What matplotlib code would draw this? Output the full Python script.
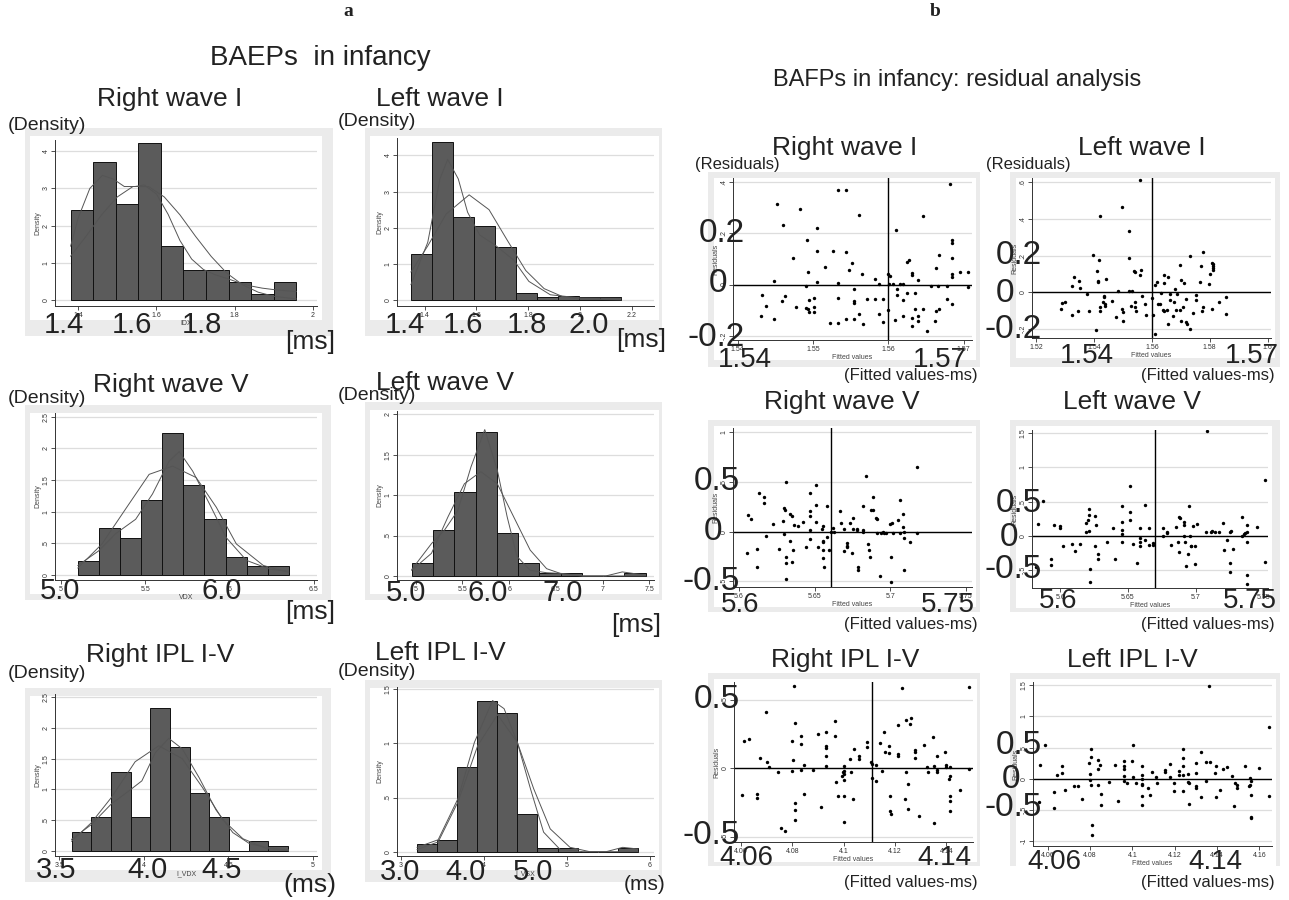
import numpy as np
import matplotlib
matplotlib.use("Agg")
import matplotlib.pyplot as plt
from matplotlib.patches import Rectangle

plt.rcParams['font.family'] = ['Liberation Sans', 'DejaVu Sans']

# ---------------- DATA ----------------

# histograms: first bin edge, bin width, bar heights (density)
a1_start, a1_width = 1.381, 0.0576
a1_heights = [2.43, 3.72, 2.59, 4.22, 1.46, 0.80, 0.80, 0.48, 0.15, 0.48]
a1_kx = [1.381, 1.40, 1.43, 1.462, 1.49, 1.518, 1.545, 1.569, 1.60, 1.63, 1.66, 1.69,
         1.72, 1.75, 1.78, 1.81, 1.84, 1.87, 1.90, 1.93, 1.957]
a1_ky = [1.45, 2.2, 3.0, 3.35, 3.25, 3.05, 3.05, 3.09, 2.85, 2.3, 1.6, 1.1,
         0.82, 0.68, 0.58, 0.47, 0.38, 0.32, 0.28, 0.25, 0.23]
a1_nx = [1.381, 1.42, 1.46, 1.50, 1.54, 1.58, 1.62, 1.66, 1.70, 1.74, 1.78, 1.82, 1.86, 1.90, 1.957]
a1_ny = [1.18, 1.71, 2.29, 2.77, 3.05, 3.05, 2.77, 2.29, 1.71, 1.17, 0.72, 0.41, 0.21, 0.10, 0.03]

a2_start, a2_width = 1.347, 0.0812
a2_heights = [1.27, 4.38, 2.29, 2.06, 1.48, 0.20, 0.10, 0.11, 0.09, 0.09]
a2_kx = [1.347, 1.412, 1.459, 1.489, 1.530, 1.566, 1.613, 1.673, 1.744, 1.803, 1.886, 2.004, 2.159]
a2_ky = [0.43, 1.6, 3.35, 3.89, 3.35, 2.43, 1.8, 1.52, 1.11, 0.52, 0.15, 0.06, 0.05]
a2_nx = [1.347, 1.412, 1.483, 1.572, 1.649, 1.720, 1.791, 1.862, 1.933, 2.004, 2.159]
a2_ny = [0.78, 1.50, 2.38, 2.91, 2.50, 1.65, 0.82, 0.32, 0.10, 0.03, 0.01]

a3_start, a3_width = 5.10, 0.1253
a3_heights = [0.215, 0.745, 0.59, 1.19, 2.25, 1.42, 0.89, 0.28, 0.14, 0.14]
a3_kx = [5.10, 5.223, 5.323, 5.443, 5.543, 5.642, 5.702, 5.782, 5.882, 5.981, 6.101, 6.241, 6.352]
a3_ky = [0.15, 0.38, 0.65, 0.88, 1.28, 1.80, 1.95, 1.64, 1.12, 0.59, 0.23, 0.09, 0.06]
a3_nx = [5.10, 5.243, 5.403, 5.523, 5.662, 5.802, 5.922, 6.041, 6.201, 6.352]
a3_ny = [0.11, 0.49, 1.12, 1.59, 1.72, 1.54, 1.07, 0.49, 0.15, 0.04]

a4_start, a4_width = 4.958, 0.2275
a4_heights = [0.165, 0.574, 1.037, 1.78, 0.537, 0.165, 0.04, 0.04, 0.0, 0.0, 0.04]
a4_kx = [4.958, 5.169, 5.31, 5.451, 5.592, 5.739, 5.873, 5.979, 6.085, 6.225, 6.401, 6.577,
         6.789, 7.035, 7.211, 7.458]
a4_ky = [0.08, 0.40, 0.57, 0.81, 1.35, 1.81, 1.31, 0.73, 0.24, 0.07, 0.04, 0.03,
         0.0, 0.0, 0.05, 0.01]
a4_nx = [4.958, 5.169, 5.345, 5.521, 5.697, 5.873, 6.049, 6.225, 6.401, 6.577, 6.789, 7.458]
a4_ny = [0.07, 0.28, 0.73, 1.14, 1.29, 1.14, 0.73, 0.32, 0.09, 0.02, 0.0, 0.0]

a5_start, a5_width = 3.572, 0.1165
a5_heights = [0.31, 0.557, 1.286, 0.557, 2.33, 1.69, 0.95, 0.557, 0.0, 0.156, 0.078]
a5_kx = [3.572, 3.689, 3.809, 3.908, 3.988, 4.068, 4.147, 4.227, 4.327, 4.426, 4.526, 4.625, 4.745, 4.855]
a5_ky = [0.19, 0.43, 0.77, 0.97, 1.14, 1.60, 1.83, 1.66, 1.19, 0.67, 0.30, 0.12, 0.05, 0.02]
a5_nx = [3.572, 3.689, 3.809, 3.948, 4.088, 4.227, 4.347, 4.466, 4.586, 4.725, 4.855]
a5_ny = [0.16, 0.46, 0.875, 1.45, 1.71, 1.50, 1.03, 0.51, 0.20, 0.04, 0.01]

a6_start, a6_width = 3.194, 0.2417
a6_heights = [0.074, 0.111, 0.778, 1.395, 1.284, 0.349, 0.037, 0.037, 0.0, 0.0, 0.037]
a6_kx = [3.194, 3.448, 3.687, 3.885, 4.103, 4.242, 4.401, 4.560, 4.718, 4.917, 5.194, 5.472, 5.671, 5.853]
a6_ky = [0.04, 0.11, 0.49, 1.01, 1.395, 1.32, 1.01, 0.58, 0.18, 0.02, 0.0, 0.0, 0.04, 0.025]
a6_nx = [3.194, 3.448, 3.687, 3.925, 4.163, 4.401, 4.599, 4.798, 5.036, 5.274, 5.853]
a6_ny = [0.02, 0.09, 0.46, 0.98, 1.265, 1.01, 0.58, 0.21, 0.04, 0.0, 0.0]

# residual scatter plots: (fitted value, residual)
b1_pts = [(1.5431, -0.123), (1.5433, -0.042), (1.5438, -0.084), (1.5449, -0.135), (1.5449, 0.014),
          (1.5452, 0.316), (1.5459, -0.066), (1.5460, 0.235), (1.5463, -0.045), (1.5474, 0.104),
          (1.5478, -0.087), (1.5483, 0.294), (1.5491, -0.006), (1.5492, 0.173), (1.5491, -0.090),
          (1.5494, -0.097), (1.5494, 0.051), (1.5495, -0.061), (1.5495, -0.106), (1.5501, -0.087),
          (1.5502, -0.051), (1.5502, -0.106), (1.5505, 0.221), (1.5505, 0.131), (1.5506, 0.010),
          (1.5516, 0.070), (1.5522, -0.151), (1.5526, 0.130), (1.5533, 0.370), (1.5533, -0.151),
          (1.5533, 0.008), (1.5533, -0.053), (1.5544, 0.370), (1.5544, 0.127), (1.5544, -0.135),
          (1.5548, 0.056), (1.5552, 0.084), (1.5554, -0.135), (1.5554, -0.017), (1.5554, -0.064),
          (1.5554, -0.071), (1.5561, 0.274), (1.5561, -0.117), (1.5565, 0.043), (1.5567, -0.155),
          (1.5572, -0.057), (1.5583, 0.021), (1.5583, -0.057), (1.5588, -0.117), (1.5588, 0.001),
          (1.5593, -0.057), (1.5593, -0.148), (1.5599, -0.100), (1.5600, 0.043), (1.5601, 0.001),
          (1.5602, 0.032), (1.5606, 0.001), (1.5609, -0.140), (1.5610, 0.212), (1.5611, -0.019),
          (1.5611, -0.039), (1.5615, 0.001), (1.5620, -0.061), (1.5620, 0.001), (1.5620, -0.122),
          (1.5625, 0.090), (1.5625, -0.032), (1.5628, 0.097), (1.5632, 0.045), (1.5632, 0.036),
          (1.5632, -0.129), (1.5632, -0.164), (1.5635, -0.032), (1.5635, -0.094), (1.5640, 0.017),
          (1.5640, -0.125), (1.5640, -0.144), (1.5646, 0.268), (1.5646, -0.094), (1.5651, -0.183),
          (1.5656, -0.006), (1.5662, -0.144), (1.5663, -0.105), (1.5663, 0.065), (1.5666, -0.006),
          (1.5667, 0.114), (1.5667, -0.096), (1.5678, -0.006), (1.5678, -0.057), (1.5682, 0.394),
          (1.5685, 0.173), (1.5685, 0.162), (1.5685, 0.105), (1.5685, 0.043), (1.5685, 0.030),
          (1.5685, -0.077), (1.5695, 0.049), (1.5706, 0.049), (1.5706, -0.009)]

b2_pts = [(1.5286, -0.093), (1.5290, -0.060), (1.5300, -0.051), (1.5323, -0.125), (1.5323, 0.036),
          (1.5330, 0.085), (1.5344, -0.100), (1.5346, 0.064), (1.5352, 0.024), (1.5374, -0.011),
          (1.5383, -0.100), (1.5395, 0.204), (1.5406, -0.205), (1.5411, 0.116), (1.5413, 0.055),
          (1.5415, 0.060), (1.5418, 0.178), (1.5419, 0.416), (1.5419, -0.078), (1.5420, -0.102),
          (1.5430, -0.055), (1.5433, -0.027), (1.5434, -0.020), (1.5436, -0.064), (1.5438, -0.075),
          (1.5442, 0.075), (1.5461, -0.049), (1.5476, -0.133), (1.5482, 0.007), (1.5498, 0.467),
          (1.5498, -0.093), (1.5499, -0.109), (1.5499, -0.155), (1.5521, 0.335), (1.5520, 0.189),
          (1.5520, 0.007), (1.5528, -0.075), (1.5530, 0.007), (1.5538, 0.118), (1.5543, 0.113),
          (1.5543, -0.056), (1.5543, -0.082), (1.5545, -0.100), (1.5557, 0.613), (1.5557, 0.093),
          (1.5563, 0.122), (1.5567, -0.020), (1.5576, -0.062), (1.5578, -0.124), (1.5601, -0.033),
          (1.5602, -0.124), (1.5611, -0.227), (1.5611, 0.038), (1.5616, 0.058), (1.5620, -0.067),
          (1.5629, -0.062), (1.5633, -0.005), (1.5640, -0.096), (1.5643, 0.093), (1.5643, 0.053),
          (1.5643, -0.100), (1.5652, -0.096), (1.5657, -0.173), (1.5657, 0.085), (1.5662, -0.009),
          (1.5662, -0.042), (1.5673, -0.129), (1.5675, -0.056), (1.5680, 0.016), (1.5685, -0.096),
          (1.5688, -0.009), (1.5696, 0.151), (1.5698, -0.096), (1.5701, -0.155), (1.5701, 0.067),
          (1.5708, -0.078), (1.5710, 0.053), (1.5719, -0.038), (1.5719, -0.160), (1.5721, -0.176),
          (1.5730, 0.198), (1.5731, -0.200), (1.5742, -0.115), (1.5753, -0.015), (1.5754, -0.045),
          (1.5768, 0.055), (1.5770, 0.144), (1.5773, -0.100), (1.5776, 0.222), (1.5777, -0.078),
          (1.5797, 0.044), (1.5800, 0.100), (1.5807, -0.091), (1.5809, 0.162), (1.5810, 0.153),
          (1.5810, 0.144), (1.5810, 0.135), (1.5811, 0.122), (1.5832, -0.056), (1.5856, -0.027),
          (1.5856, -0.118)]

b3_pts = [(5.6055, -0.219), (5.6060, 0.162), (5.6077, 0.128), (5.6121, -0.175), (5.6121, -0.360),
          (5.6135, 0.387), (5.6166, 0.343), (5.6166, 0.283), (5.6181, -0.040), (5.6223, 0.077),
          (5.6263, -0.175), (5.6292, 0.111), (5.6296, -0.027), (5.6298, 0.236), (5.6305, 0.219),
          (5.6309, 0.495), (5.6309, -0.253), (5.6309, -0.320), (5.6309, -0.478), (5.6340, 0.172),
          (5.6340, -0.098), (5.6349, 0.158), (5.6353, -0.306), (5.6356, -0.182), (5.6360, 0.064),
          (5.6393, 0.061), (5.6426, 0.094), (5.6442, -0.155), (5.6466, 0.387), (5.6466, 0.209),
          (5.6468, 0.155), (5.6468, 0.017), (5.6468, -0.074), (5.6508, 0.094), (5.6508, 0.468),
          (5.6510, 0.266), (5.6524, -0.158), (5.6546, 0.024), (5.6554, 0.054), (5.6554, -0.091),
          (5.6557, -0.104), (5.6557, -0.185), (5.6557, -0.263), (5.6559, -0.354), (5.6581, 0.253),
          (5.6583, -0.051), (5.6594, -0.185), (5.6605, -0.003), (5.6623, 0.040), (5.6625, -0.003),
          (5.6667, 0.202), (5.6672, 0.084), (5.6691, -0.192), (5.6694, 0.027), (5.6711, -0.118),
          (5.6713, -0.141), (5.6716, -0.152), (5.6736, 0.091), (5.6749, -0.219), (5.6753, 0.030),
          (5.6755, 0.141), (5.6778, 0.017), (5.6782, 0.024), (5.6784, -0.354), (5.6784, -0.387),
          (5.6820, 0.259), (5.6822, 0.020), (5.6822, -0.003), (5.6842, 0.559), (5.6855, -0.125),
          (5.6859, -0.189), (5.6864, -0.253), (5.6870, 0.215), (5.6884, 0.350), (5.6886, 0.219),
          (5.6908, 0.135), (5.6910, 0.128), (5.6912, -0.010), (5.6932, -0.441), (5.6937, -0.010),
          (5.6950, -0.007), (5.6961, -0.010), (5.6972, -0.017), (5.7001, 0.081), (5.7005, -0.253),
          (5.7005, -0.505), (5.7014, 0.091), (5.7016, -0.010), (5.7054, 0.114), (5.7065, 0.313),
          (5.7065, -0.017), (5.7087, 0.172), (5.7093, -0.007), (5.7093, -0.067), (5.7093, -0.387),
          (5.7131, -0.101), (5.7175, 0.646), (5.7177, -0.017), (5.7085, 0.051)]

b4_pts = [(5.5822, -0.458), (5.5835, 0.175), (5.5872, 0.511), (5.5931, -0.341), (5.5933, -0.424),
          (5.5953, 0.156), (5.5995, 0.136), (5.5995, 0.112), (5.6020, -0.146), (5.6086, -0.117),
          (5.6111, -0.219), (5.6143, -0.117), (5.6192, 0.185), (5.6192, 0.049), (5.6202, 0.229),
          (5.6210, 0.385), (5.6212, 0.297), (5.6215, 0.073), (5.6217, -0.487), (5.6217, -0.682),
          (5.6259, 0.292), (5.6259, -0.156), (5.6266, 0.151), (5.6279, -0.263), (5.6279, -0.341),
          (5.6345, -0.093), (5.6390, 0.112), (5.6407, -0.341), (5.6452, 0.438), (5.6452, 0.200),
          (5.6452, 0.078), (5.6454, 0.029), (5.6454, -0.097), (5.6518, 0.736), (5.6518, 0.341),
          (5.6518, 0.224), (5.6538, -0.127), (5.6567, -0.399), (5.6585, 0.117), (5.6585, -0.034),
          (5.6585, -0.093), (5.6585, -0.156), (5.6624, 0.453), (5.6624, -0.068), (5.6656, 0.117),
          (5.6656, -0.141), (5.6686, -0.107), (5.6686, -0.132), (5.6755, 0.112), (5.6755, -0.010),
          (5.6790, 0.054), (5.6790, 0.039), (5.6817, -0.141), (5.6854, 0.127), (5.6878, 0.268),
          (5.6883, 0.253), (5.6873, -0.093), (5.6878, -0.244), (5.6915, -0.010), (5.6918, -0.093),
          (5.6915, 0.156), (5.6915, 0.205), (5.6928, -0.443), (5.6945, -0.268), (5.6950, 0.429),
          (5.6957, -0.010), (5.6962, -0.156), (5.6965, -0.146), (5.6977, 0.136), (5.6992, -0.414),
          (5.6994, -0.146), (5.7007, 0.170), (5.7081, 1.529), (5.7078, 0.054), (5.7110, 0.049),
          (5.7118, 0.073), (5.7145, 0.054), (5.7174, 0.054), (5.7204, 0.185), (5.7211, -0.205),
          (5.7234, -0.063), (5.7253, 0.054), (5.7256, -0.399), (5.7256, -0.536), (5.7263, 0.068),
          (5.7278, -0.195), (5.7340, 0.268), (5.7340, -0.010), (5.7357, 0.019), (5.7364, 0.039),
          (5.7377, 0.054), (5.7382, 0.161), (5.7382, -0.097), (5.7382, -0.570), (5.7382, -0.706),
          (5.7451, 0.127), (5.7510, 0.818), (5.7510, -0.390)]

b5_pts = [(4.0606, -0.195), (4.0613, 0.195), (4.0630, 0.214), (4.0661, -0.192), (4.0662, -0.219),
          (4.0675, 0.073), (4.0697, 0.409), (4.0700, 0.046), (4.0708, 0.005), (4.0743, -0.029),
          (4.0758, -0.440), (4.0772, -0.462), (4.0798, 0.197), (4.0800, -0.022), (4.0804, 0.058),
          (4.0806, 0.601), (4.0809, 0.326), (4.0810, -0.255), (4.0810, -0.309), (4.0810, -0.377),
          (4.0833, 0.234), (4.0835, 0.173), (4.0835, -0.012), (4.0845, 0.024), (4.0846, -0.187),
          (4.0879, -0.017), (4.0902, 0.248), (4.0912, -0.285), (4.0933, 0.263), (4.0933, 0.163),
          (4.0933, 0.144), (4.0933, 0.085), (4.0933, 0.012), (4.0967, 0.341), (4.0967, 0.234),
          (4.0970, -0.102), (4.0980, -0.207), (4.0992, -0.058), (4.0997, -0.032), (4.1001, 0.015),
          (4.1002, -0.022), (4.1002, -0.041), (4.1002, -0.085), (4.1002, -0.202), (4.1002, -0.394),
          (4.1024, 0.068), (4.1029, -0.027), (4.1036, -0.224), (4.1041, 0.136), (4.1059, 0.088),
          (4.1060, 0.063), (4.1090, 0.190), (4.1091, 0.151), (4.1108, 0.044), (4.1110, 0.032),
          (4.1110, -0.071), (4.1126, 0.024), (4.1128, -0.097), (4.1142, 0.185), (4.1148, -0.019),
          (4.1159, 0.260), (4.1161, 0.114), (4.1176, 0.107), (4.1177, 0.161), (4.1180, -0.207),
          (4.1182, -0.314), (4.1183, -0.336), (4.1212, 0.316), (4.1212, 0.102), (4.1212, 0.088),
          (4.1228, 0.586), (4.1238, -0.229), (4.1242, 0.353), (4.1244, -0.027), (4.1251, -0.117),
          (4.1251, -0.297), (4.1257, 0.319), (4.1261, 0.367), (4.1277, 0.129), (4.1278, 0.114),
          (4.1278, 0.075), (4.1294, -0.350), (4.1312, 0.168), (4.1326, 0.007), (4.1329, -0.027),
          (4.1348, 0.224), (4.1351, -0.399), (4.1351, 0.015), (4.1362, 0.090), (4.1362, -0.017),
          (4.1364, -0.027), (4.1395, 0.119), (4.1399, 0.019), (4.1399, 0.005), (4.1409, -0.083),
          (4.1416, 0.010), (4.1416, -0.207), (4.1416, -0.243), (4.1416, -0.316), (4.1416, -0.058),
          (4.1452, -0.158), (4.1487, 0.589), (4.1487, -0.010)]

b6_pts = [(4.0558, -0.372), (4.0564, 0.229), (4.0586, 0.548), (4.0628, -0.218), (4.0628, -0.463),
          (4.0642, 0.064), (4.0668, 0.207), (4.0668, 0.090), (4.0682, -0.186), (4.0724, -0.112),
          (4.0742, -0.122), (4.0763, -0.319), (4.0794, 0.261), (4.0798, 0.085), (4.0799, -0.016),
          (4.0805, 0.479), (4.0805, 0.351), (4.0805, -0.106), (4.0808, -0.734), (4.0808, -0.894),
          (4.0835, 0.309), (4.0836, 0.165), (4.0836, -0.096), (4.0849, 0.229), (4.0850, -0.250),
          (4.0850, -0.415), (4.0891, -0.048), (4.0919, 0.229), (4.0933, -0.356), (4.0959, 0.287),
          (4.0959, 0.207), (4.0959, 0.154), (4.0959, 0.043), (4.0959, -0.027), (4.0975, -0.064),
          (4.0997, 0.293), (4.1003, 0.537), (4.1003, 0.032), (4.1017, -0.059), (4.1043, 0.213),
          (4.1043, 0.069), (4.1043, -0.005), (4.1043, -0.080), (4.1043, -0.096), (4.1043, -0.282),
          (4.1045, -0.415), (4.1074, -0.149), (4.1085, -0.266), (4.1091, 0.117), (4.1113, 0.027),
          (4.1115, -0.074), (4.1154, 0.138), (4.1155, 0.117), (4.1177, 0.245), (4.1177, 0.032),
          (4.1196, -0.074), (4.1196, -0.191), (4.1219, 0.122), (4.1222, 0.069), (4.1238, 0.064),
          (4.1239, 0.479), (4.1241, 0.330), (4.1241, 0.207), (4.1241, -0.191), (4.1264, 0.085),
          (4.1264, -0.048), (4.1266, -0.074), (4.1267, -0.404), (4.1300, 0.250), (4.1300, 0.101),
          (4.1300, -0.117), (4.1300, -0.154), (4.1322, 0.426), (4.1326, -0.298), (4.1347, 0.266),
          (4.1348, -0.032), (4.1364, 1.479), (4.1365, 0.271), (4.1390, 0.101), (4.1393, 0.202),
          (4.1393, -0.287), (4.1412, -0.176), (4.1429, 0.154), (4.1446, 0.191), (4.1471, 0.043),
          (4.1479, -0.431), (4.1485, -0.069), (4.1494, -0.106), (4.1494, -0.154), (4.1532, 0.213),
          (4.1553, -0.117), (4.1556, -0.106), (4.1558, 0.011), (4.1560, -0.032), (4.1560, -0.261),
          (4.1560, -0.612), (4.1560, -0.628), (4.1598, 0.181), (4.1644, 0.835), (4.1644, -0.271)]

# ---------------- FIGURE ----------------

W, H = 1289, 900
fig = plt.figure(figsize=(W / 100, H / 100), dpi=100)


def fbox(l, t, r, b):
    return [l / W, 1 - b / H, (r - l) / W, (b - t) / H]


def ftext(x, y, s, size, ha='left', va='center', **kw):
    fig.text(x / W, 1 - y / H, s, fontsize=size, ha=ha, va=va, color='#222222', **kw)


def frame(outer, inner):
    l, t, r, b = outer
    fig.add_artist(Rectangle((l / W, 1 - b / H), (r - l) / W, (b - t) / H, transform=fig.transFigure,
                             facecolor='#ebebeb', edgecolor='none', zorder=-2))
    l, t, r, b = inner
    fig.add_artist(Rectangle((l / W, 1 - b / H), (r - l) / W, (b - t) / H, transform=fig.transFigure,
                             facecolor='white', edgecolor='none', zorder=-1))


def stata_axes(ax, xlim, ylim, xt, xtl, yt, ytl, xtitle, ytitle):
    ax.set_xlim(xlim)
    ax.set_ylim(ylim)
    ax.set_xticks(xt, xtl)
    ax.set_yticks(yt, ytl)
    ax.patch.set_alpha(0)
    for s in ['top', 'right']:
        ax.spines[s].set_visible(False)
    for s in ['left', 'bottom']:
        ax.spines[s].set_linewidth(0.7)
        ax.spines[s].set_color('#333333')
    ax.tick_params(labelsize=5, length=3, width=0.6, pad=1, colors='#333333')
    plt.setp(ax.get_yticklabels(), rotation=90, va='center')
    ax.grid(axis='y', color='#dddddd', lw=0.9)
    ax.set_axisbelow(True)
    ax.set_xlabel(xtitle, fontsize=5, labelpad=1, color='#444444')
    ax.set_ylabel(ytitle, fontsize=5, labelpad=1, color='#444444')


def hist_panel(outer, plot, start, width, heights, kx, ky, nx, ny, xlim, ylim, xt, xtl, yt, ytl, xtitle):
    frame(outer, (outer[0] + 5, outer[1] + 8, plot[2] + 5, plot[3] + 14))
    ax = fig.add_axes(fbox(*plot))
    left = start + width * np.arange(len(heights))
    ax.bar(left, heights, width=width, align='edge', color='#5b5b5b', edgecolor='#111111', lw=0.7, zorder=2)
    ax.plot(kx, ky, color='#555555', lw=0.7, zorder=3)
    ax.plot(nx, ny, color='#555555', lw=0.7, zorder=3)
    stata_axes(ax, xlim, ylim, xt, xtl, yt, ytl, xtitle, 'Density')
    return ax


def resid_panel(outer, plot, pts, vline, xlim, ylim, xt, xtl, yt, ytl):
    frame(outer, (outer[0] + 6, outer[1] + 6, plot[2] + 4, plot[3] + 20))
    ax = fig.add_axes(fbox(*plot))
    p = np.array(pts)
    ax.scatter(p[:, 0], p[:, 1], s=6, color='black', linewidths=0, zorder=3)
    ax.axhline(0, color='black', lw=1.0, zorder=2)
    if vline is not None:
        ax.axvline(vline, color='black', lw=1.0, zorder=2)
    stata_axes(ax, xlim, ylim, xt, xtl, yt, ytl, 'Fitted values', 'Residuals')
    return ax


# panel letters and headings
ftext(348, 12, 'a', 14, ha='center', family='Liberation Serif', weight='bold')
ftext(935, 12, 'b', 14, ha='center', family='Liberation Serif', weight='bold')
ftext(320, 58, 'BAEPs  in infancy', 20, ha='center')
ftext(957, 80, 'BAFPs in infancy: residual analysis', 17, ha='center')

TS = 19    # panel title size
BIG = 21   # pasted-on axis numbers

# ---- a: histograms ----
hist_panel((25, 128, 333, 336), (55, 140, 317, 306), a1_start, a1_width, a1_heights,
           a1_kx, a1_ky, a1_nx, a1_ny, (1.341, 2.01), (-0.16, 4.3),
           [1.4, 1.6, 1.8, 2.0], ['1.4', '1.6', '1.8', '2'], [0, 1, 2, 3, 4], ['0', '1', '2', '3', '4'], 'IDX')
ftext(170, 99, 'Right wave I', TS, ha='center')
ftext(8, 125, '(Density)', 14)
for s, x in [('1.4', 64), ('1.6', 132), ('1.8', 202)]:
    ftext(x, 325, s, BIG, ha='center')
ftext(310, 342, '[ms]', 19, ha='center')

hist_panel((365, 128, 662, 336), (397, 138, 654, 306), a2_start, a2_width, a2_heights,
           a2_kx, a2_ky, a2_nx, a2_ny, (1.293, 2.287), (-0.16, 4.48),
           [1.4, 1.6, 1.8, 2.0, 2.2], ['1.4', '1.6', '1.8', '2', '2.2'], [0, 1, 2, 3, 4],
           ['0', '1', '2', '3', '4'], '')
ftext(440, 99, 'Left wave I', TS, ha='center')
ftext(338, 122, '(Density)', 14)
for s, x in [('1.4', 405), ('1.6', 463), ('1.8', 527), ('2.0', 589)]:
    ftext(x, 325, s, BIG, ha='center')
ftext(641, 340, '[ms]', 19, ha='center')

hist_panel((25, 405, 331, 600), (55, 413, 317, 580), a3_start, a3_width, a3_heights,
           a3_kx, a3_ky, a3_nx, a3_ny, (4.964, 6.52), (-0.08, 2.56),
           [5, 5.5, 6, 6.5], ['5', '5.5', '6', '6.5'], [0, 0.5, 1, 1.5, 2, 2.5],
           ['0', '.5', '1', '1.5', '2', '2.5'], 'VDX')
ftext(171, 385, 'Right wave V', TS, ha='center')
ftext(8, 398, '(Density)', 14)
for s, x in [('5.0', 60), ('6.0', 222)]:
    ftext(x, 591, s, BIG, ha='center')
ftext(310, 612, '[ms]', 19, ha='center')

hist_panel((365, 402, 662, 600), (397, 411, 654, 580), a4_start, a4_width, a4_heights,
           a4_kx, a4_ky, a4_nx, a4_ny, (4.80, 7.55), (-0.05, 2.04),
           [5, 5.5, 6, 6.5, 7, 7.5], ['5', '5.5', '6', '6.5', '7', '7.5'], [0, 0.5, 1, 1.5, 2],
           ['0', '.5', '1', '1.5', '2'], '')
ftext(445, 383, 'Left wave V', TS, ha='center')
ftext(338, 396, '(Density)', 14)
for s, x in [('5.0', 406), ('6.0', 488), ('7.0', 563)]:
    ftext(x, 593, s, BIG, ha='center')
ftext(636, 625, '[ms]', 19, ha='center')

hist_panel((25, 688, 331, 882), (55, 694, 317, 856), a5_start, a5_width, a5_heights,
           a5_kx, a5_ky, a5_nx, a5_ny, (3.474, 5.024), (-0.08, 2.55),
           [3.5, 4, 4.5, 5], ['3.5', '4', '4.5', '5'], [0, 0.5, 1, 1.5, 2, 2.5],
           ['0', '.5', '1', '1.5', '2', '2.5'], 'I_VDX')
ftext(160, 655, 'Right IPL I-V', TS, ha='center')
ftext(8, 673, '(Density)', 14)
for s, x in [('3.5', 56), ('4.0', 147), ('4.5', 222)]:
    ftext(x, 870, s, BIG, ha='center')
ftext(310, 885, '(ms)', 19, ha='center')

hist_panel((365, 680, 662, 882), (397, 687, 654, 856), a6_start, a6_width, a6_heights,
           a6_kx, a6_ky, a6_nx, a6_ny, (2.952, 6.048), (-0.04, 1.52),
           [3, 4, 5, 6], ['3', '4', '5', '6'], [0, 0.5, 1, 1.5], ['0', '.5', '1', '1.5'], 'I_VSX')
ftext(440, 653, 'Left IPL I-V', TS, ha='center')
ftext(338, 671, '(Density)', 14)
for s, x in [('3.0', 400), ('4.0', 466), ('5.0', 533)]:
    ftext(x, 872, s, BIG, ha='center')
ftext(645, 885, '(ms)', 15, ha='center')

# ---- b: residual plots ----
YB = 24   # big residual labels

resid_panel((708, 172, 980, 367), (733, 178, 972, 340), b1_pts, 1.56, (1.5394, 1.5711), (-0.217, 0.417),
            [1.54, 1.55, 1.56, 1.57], ['1.54', '1.55', '1.56', '1.57'], [-0.2, 0, 0.2, 0.4],
            ['-.2', '0', '.2', '.4'])
ftext(845, 148, 'Right wave I', TS, ha='center')
ftext(695, 165, '(Residuals)', 12)
ftext(745, 233, '0.2', YB, ha='right')
ftext(727, 283, '0', YB, ha='right')
ftext(745, 338, '-0.2', YB, ha='right')
ftext(745, 360, '1.54', 20, ha='center')
ftext(940, 360, '1.57', 20, ha='center')
ftext(978, 375, '(Fitted values-ms)', 12, ha='right')

resid_panel((1010, 172, 1280, 367), (1032, 178, 1271, 338), b2_pts, 1.56, (1.5185, 1.6012), (-0.25, 0.624),
            [1.52, 1.54, 1.56, 1.58, 1.6], ['1.52', '1.54', '1.56', '1.58', '1.6'], [-0.2, 0, 0.2, 0.4, 0.6],
            ['-.2', '0', '.2', '.4', '.6'])
ftext(1142, 148, 'Left wave I', TS, ha='center')
ftext(986, 165, '(Residuals)', 12)
ftext(1042, 255, '0.2', YB, ha='right')
ftext(1014, 293, '0', YB, ha='right')
ftext(1042, 330, '-0.2', YB, ha='right')
ftext(1087, 356, '1.54', 20, ha='center')
ftext(1252, 356, '1.57', 20, ha='center')
ftext(1275, 375, '(Fitted values-ms)', 12, ha='right')

resid_panel((708, 420, 980, 612), (733, 428, 972, 587), b3_pts, 5.661, (5.596, 5.754), (-0.556, 1.04),
            [5.6, 5.65, 5.7, 5.75], ['5.6', '5.65', '5.7', '5.75'], [-0.5, 0, 0.5, 1],
            ['-.5', '0', '.5', '1'])
ftext(842, 402, 'Right wave V', TS, ha='center')
ftext(740, 482, '0.5', YB, ha='right')
ftext(722, 532, '0', YB, ha='right')
ftext(740, 581, '-0.5', YB, ha='right')
ftext(740, 605, '5.6', 20, ha='center')
ftext(948, 605, '5.75', 20, ha='center')
ftext(978, 625, '(Fitted values-ms)', 12, ha='right')

resid_panel((1010, 420, 1280, 612), (1032, 430, 1268, 588), b4_pts, 5.67, (5.579, 5.7535), (-0.765, 1.549),
            [5.6, 5.65, 5.7, 5.75], ['5.6', '5.65', '5.7', '5.75'], [-0.5, 0, 0.5, 1, 1.5],
            ['-.5', '0', '.5', '1', '1.5'])
ftext(1132, 402, 'Left wave V', TS, ha='center')
ftext(1042, 503, '0.5', YB, ha='right')
ftext(1018, 537, '0', YB, ha='right')
ftext(1042, 570, '-0.5', YB, ha='right')
ftext(1058, 601, '5.6', 20, ha='center')
ftext(1250, 601, '5.75', 20, ha='center')
ftext(1275, 625, '(Fitted values-ms)', 12, ha='right')

resid_panel((708, 673, 980, 866), (734, 682, 973, 842), b5_pts, 4.1112, (4.0573, 4.1504), (-0.54, 0.628),
            [4.06, 4.08, 4.1, 4.12, 4.14], ['4.06', '4.08', '4.1', '4.12', '4.14'], [-0.5, 0, 0.5],
            ['-.5', '0', '.5'])
ftext(845, 660, 'Right IPL I-V', TS, ha='center')
ftext(740, 700, '0.5', YB, ha='right')
ftext(740, 836, '-0.5', YB, ha='right')
ftext(746, 858, '4.06', 20, ha='center')
ftext(944, 858, '4.14', 20, ha='center')
ftext(978, 883, '(Fitted values-ms)', 12, ha='right')

resid_panel((1010, 673, 1280, 866), (1033, 682, 1272, 846), b6_pts, None, (4.053, 4.166), (-1.075, 1.55),
            [4.06, 4.08, 4.1, 4.12, 4.14, 4.16], ['4.06', '4.08', '4.1', '4.12', '4.14', '4.16'],
            [-1, -0.5, 0, 0.5, 1, 1.5], ['-1', '-.5', '0', '.5', '1', '1.5'])
ftext(1132, 660, 'Left IPL I-V', TS, ha='center')
ftext(1042, 745, '0.5', YB, ha='right')
ftext(1020, 780, '0', YB, ha='right')
ftext(1042, 808, '-0.5', YB, ha='right')
ftext(1054, 862, '4.06', 20, ha='center')
ftext(1215, 862, '4.14', 20, ha='center')
ftext(1275, 883, '(Fitted values-ms)', 12, ha='right')

fig.savefig('out.png', dpi=100)
